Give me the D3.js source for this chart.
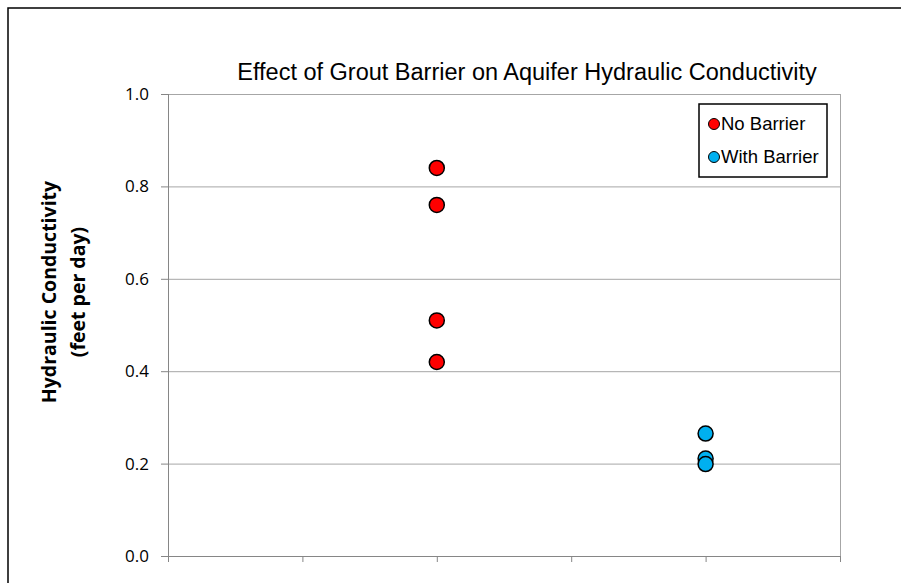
<!DOCTYPE html>
<html>
<head>
<meta charset="utf-8">
<script src="https://cdn.jsdelivr.net/npm/d3@7"></script>
<style>
  body { margin: 0; background: #fff; }
</style>
</head>
<body>
<div id="chart"></div>
<script>
// data
var noBarrier = [0.84, 0.76, 0.51, 0.42];
var withBarrier = [0.265, 0.211, 0.199];
var noBarrierX = 2, withBarrierX = 4;
var yTicks = [0.0, 0.2, 0.4, 0.6, 0.8, 1.0];
var xTicks = [0, 1, 2, 3, 4, 5];
var series = [
  {name: "No Barrier", color: "#ff0000", x: noBarrierX, values: noBarrier},
  {name: "With Barrier", color: "#00b0f0", x: withBarrierX, values: withBarrier}
];

var W = 901, H = 583;
var margin = {top: 94, right: 61, bottom: 27, left: 168},
    width = W - margin.left - margin.right,
    height = H - margin.top - margin.bottom;

var svg = d3.select("#chart")
  .append("svg")
    .attr("width", W)
    .attr("height", H);

// outer chart border (right and bottom edges fall outside the picture)
svg.append("rect")
  .attr("x", 8).attr("y", 8)
  .attr("width", W + 20).attr("height", H + 20)
  .attr("fill", "none")
  .attr("stroke", "#000")
  .attr("stroke-width", 1.5);

// title
svg.append("text")
  .attr("x", 527).attr("y", 80)
  .attr("text-anchor", "middle")
  .style("font-family", "Liberation Sans, Arial, sans-serif")
  .style("font-size", "23.5px")
  .attr("fill", "#000")
  .text("Effect of Grout Barrier on Aquifer Hydraulic Conductivity");

var g = svg.append("g")
  .attr("transform", "translate(" + margin.left + "," + margin.top + ")");

var x = d3.scaleLinear().domain([0, 5]).range([0, width]);
var y = d3.scaleLinear().domain([0, 1]).range([height, 0]);

// gridlines
g.append("g")
  .selectAll("line")
  .data(yTicks.slice(1))
  .enter().append("line")
    .attr("x1", 0).attr("x2", width)
    .attr("y1", function(d) { return y(d) + 0.5; })
    .attr("y2", function(d) { return y(d) + 0.5; })
    .attr("stroke", "#a6a6a6")
    .attr("stroke-width", 1);

// right border of plot area
g.append("line")
  .attr("x1", width + 0.5).attr("x2", width + 0.5)
  .attr("y1", 0).attr("y2", height)
  .attr("stroke", "#a6a6a6");

// y axis
var yAxis = g.append("g")
  .call(d3.axisLeft(y).tickValues(yTicks).tickSize(7).tickPadding(12)
    .tickFormat(d3.format(".1f")));
yAxis.select(".domain").attr("stroke", "#868686").attr("d", "M0.5,0V" + height);
yAxis.selectAll(".tick line").attr("stroke", "#868686");
yAxis.selectAll("text")
  .style("font-family", "Open Sans, Liberation Sans, sans-serif")
  .style("font-size", "17px")
  .attr("fill", "#000");

// x axis (no labels)
var xAxis = g.append("g")
  .attr("transform", "translate(0," + height + ")")
  .call(d3.axisBottom(x).tickValues(xTicks).tickSize(6).tickFormat(""));
xAxis.select(".domain").attr("stroke", "#868686").attr("d", "M0,0.5H" + width);
xAxis.selectAll(".tick line").attr("stroke", "#868686");

// y axis title, two lines
var yTitle = svg.append("text")
  .attr("transform", "translate(56,292) rotate(-90)")
  .attr("text-anchor", "middle")
  .style("font-family", "Open Sans, Liberation Sans, sans-serif")
  .style("font-size", "19.5px")
  .style("font-weight", "bold")
  .attr("fill", "#000");
yTitle.append("tspan").attr("x", 0).attr("dy", 0).text("Hydraulic Conductivity");
yTitle.append("tspan").attr("x", 0).attr("dy", 29).text("(feet per day)");

// points
series.forEach(function(s) {
  g.append("g")
    .selectAll("circle")
    .data(s.values)
    .enter().append("circle")
      .attr("cx", x(s.x))
      .attr("cy", function(d) { return y(d); })
      .attr("r", 7.5)
      .attr("fill", s.color)
      .attr("stroke", "#000")
      .attr("stroke-width", 1.5);
});

// legend
var legend = svg.append("g").attr("transform", "translate(699,104)");
legend.append("rect")
  .attr("width", 128).attr("height", 73)
  .attr("fill", "#fff")
  .attr("stroke", "#000")
  .attr("stroke-width", 1.5);
series.forEach(function(s, i) {
  var ly = 20 + i * 33;
  legend.append("circle")
    .attr("cx", 15).attr("cy", ly)
    .attr("r", 5.5)
    .attr("fill", s.color)
    .attr("stroke", "#000")
    .attr("stroke-width", 1);
  legend.append("text")
    .attr("x", 22).attr("y", ly + 6)
    .style("font-family", "Liberation Sans, Arial, sans-serif")
    .style("font-size", "18.5px")
    .attr("fill", "#000")
    .text(s.name);
});
</script>
</body>
</html>
